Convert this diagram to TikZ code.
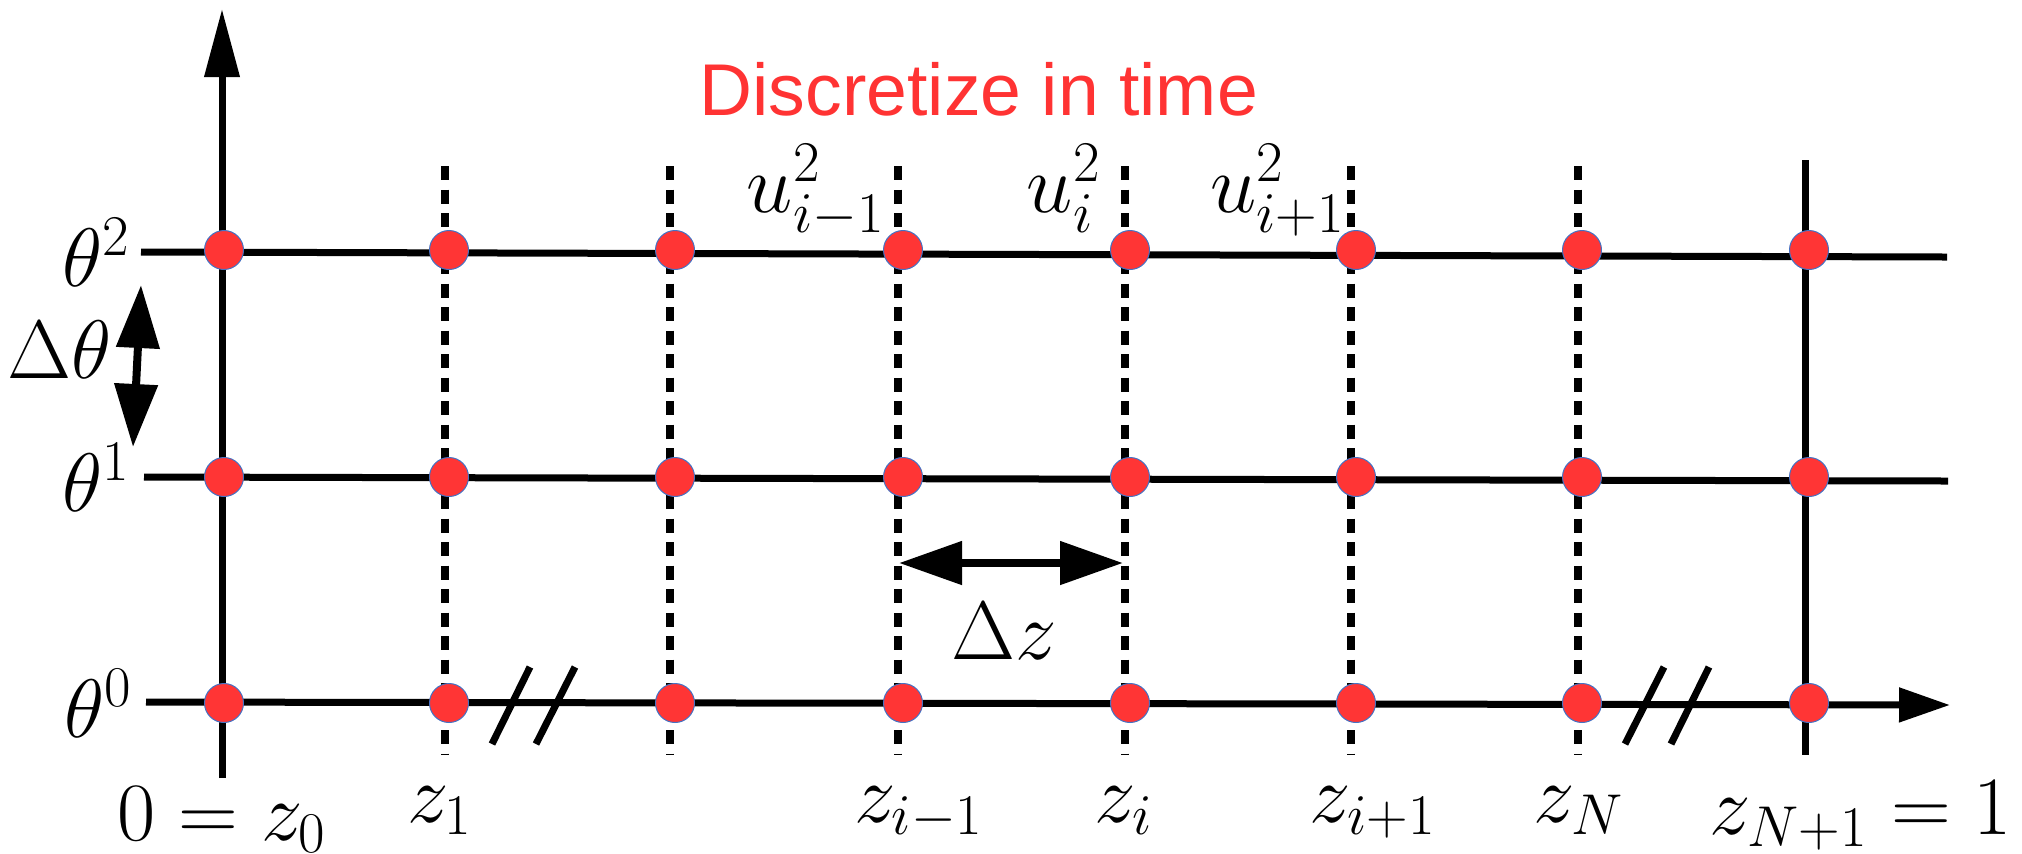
\documentclass[tikz,border=0pt]{standalone}
\usepackage{fontspec}
\newfontfamily\titlesans{Liberation Sans}
\usetikzlibrary{arrows.meta}
\definecolor{dotred}{RGB}{255,53,53}
\definecolor{dotblue}{RGB}{68,114,196}
\definecolor{titlered}{RGB}{255,51,51}
\begin{document}
\begin{tikzpicture}[x=0.3pt,y=-0.3pt,
  gridline/.style={line width=2.1pt},
  dashline/.style={line width=2.4pt, dash pattern=on 4.3pt off 2.75pt},
  gdot/.style={circle, fill=dotred, draw=dotblue, line width=0.3pt, minimum size=11.7pt, inner sep=0pt},
  lab/.style={inner sep=0pt, font=\fontsize{23.7}{28}\selectfont},
  titletext/.style={inner sep=0pt, font=\titlesans\fontsize{22}{26}\selectfont, text=titlered},
  yaxisarrow/.style={line width=2.1pt, -{Triangle[length=20.4pt,width=10.2pt]}},
  xaxisarrow/.style={line width=2.1pt, -{Triangle[length=15.3pt,width=10pt]}},
  dimarrow/.style={line width=2.4pt, {Triangle[length=18.9pt,width=12.6pt]}-{Triangle[length=18.9pt,width=12.6pt]}},
  hatch/.style={line width=2.1pt}
]
\useasboundingbox (0,0) rectangle (2022,853);

% horizontal grid lines
\coordinate (h2a) at (141,252); \coordinate (h2b) at (1947,257);
\coordinate (h1a) at (144,477); \coordinate (h1b) at (1948,481);
\coordinate (h0a) at (146,702); \coordinate (h0b) at (1950,705);
\draw[gridline] (h2a) -- (h2b);
\draw[gridline] (h1a) -- (h1b);
\draw[xaxisarrow] (h0a) -- (h0b);

% vertical axis
\coordinate (va) at (222,778); \coordinate (vb) at (222,9);
\draw[yaxisarrow] (va) -- (vb);

% dashed verticals
\foreach \n/\xx in {1/445,2/670,3/898,4/1125,5/1351,6/1578} {
  \coordinate (ct\n) at (\xx,166);
  \coordinate (cb\n) at (\xx,755);
  \draw[dashline] (ct\n) -- (cb\n);
}
% right solid vertical
\coordinate (rt) at (1805,160); \coordinate (rb) at (1805,755);
\draw[gridline] (rt) -- (rb);

% break marks
\coordinate (ha1) at (492,744); \coordinate (hb1) at (530,667);
\coordinate (ha2) at (536,744); \coordinate (hb2) at (575,667);
\coordinate (ha3) at (1625,744); \coordinate (hb3) at (1664,667);
\coordinate (ha4) at (1671,744); \coordinate (hb4) at (1709,667);
\draw[hatch] (ha1) -- (hb1);
\draw[hatch] (ha2) -- (hb2);
\draw[hatch] (ha3) -- (hb3);
\draw[hatch] (ha4) -- (hb4);

% grid dots
\foreach \r/\yy in {0/703,1/477,2/250} {
  \foreach \c/\xx in {0/224,1/449,2/675,3/903,4/1130,5/1356,6/1582,7/1809} {
    \node[gdot] (d\r-\c) at (\xx,\yy) {};
  }
}

% dimension arrows
\coordinate (dta) at (133,447); \coordinate (dtb) at (141,285);
\draw[dimarrow] (dta) -- (dtb);
\coordinate (dza) at (899,563); \coordinate (dzb) at (1123,563);
\draw[dimarrow] (dza) -- (dzb);

% title
\node[titletext, anchor=base west] (title) at (699,115) {Discretize in time};

% theta labels
\node[lab, anchor=base east] (t2) at (131,286) {$\theta^2$};
\node[lab, anchor=base east] (t1) at (131,511) {$\theta^1$};
\node[lab, anchor=base east] (t0) at (133,737) {$\theta^0$};
\node[lab, anchor=base] (dth) at (60,378) {$\Delta\theta$};

% u labels
\node[lab, anchor=base] (u1) at (816,212) {$u^2_{i-1}$};
\node[lab, anchor=base] (u2) at (1064,212) {$u^2_{i}$};
\node[lab, anchor=base] (u3) at (1278,212) {$u^2_{i+1}$};

% delta z
\node[lab, anchor=base] (dzl) at (1004,659) {$\Delta z$};

% z labels
\node[lab, anchor=base] (z0) at (222,840) {$0=z_0$};
\node[lab, anchor=base] (z1) at (440,822) {$z_1$};
\node[lab, anchor=base] (zim) at (919,822) {$z_{i-1}$};
\node[lab, anchor=base] (zi) at (1124,822) {$z_{i}$};
\node[lab, anchor=base] (zip) at (1373,822) {$z_{i+1}$};
\node[lab, anchor=base] (zN) at (1579,822) {$z_N$};
\node[lab, anchor=base] (zN1) at (1861,834) {$z_{N+1}=1$};
\end{tikzpicture}
\end{document}
